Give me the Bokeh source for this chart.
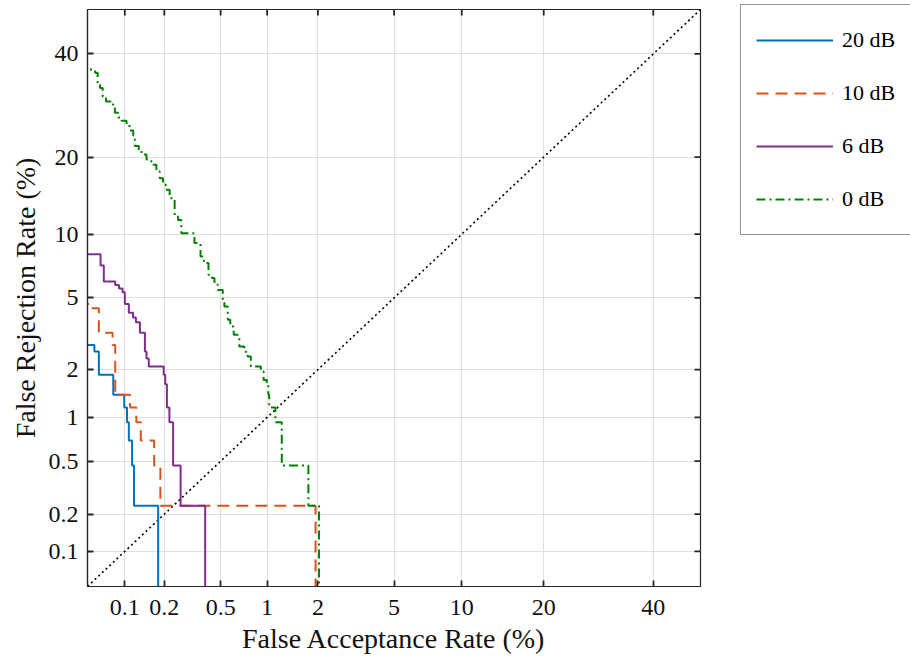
from math import pi
from statistics import NormalDist

from bokeh.embed import file_html
from bokeh.models import (CustomJSTickFormatter, FixedTicker, Legend, LegendItem,
                          Range1d)
from bokeh.plotting import figure
from bokeh.resources import INLINE

# ---------------------------------------------------------------- data (%)
tick_values = [0.1, 0.2, 0.5, 1, 2, 5, 10, 20, 40]
tick_labels = ["0.1", "0.2", "0.5", "1", "2", "5", "10", "20", "40"]
axis_limits = [0.05, 50]

# each curve: false-acceptance points where the miss rate drops,
# and the miss-rate level before the first drop and after every drop
fa_20db = [0.057, 0.062, 0.081, 0.099, 0.104, 0.1075, 0.114, 0.118, 0.18]
fr_20db = [2.79, 2.56, 1.86, 1.40, 1.16, 0.93, 0.70, 0.465, 0.233, 0.0]

fa_10db = [0.054, 0.062, 0.080, 0.084, 0.110, 0.123, 0.133, 0.168, 0.187, 1.94]
fr_10db = [4.65, 4.42, 3.26, 2.79, 1.40, 1.16, 0.93, 0.70, 0.465, 0.233, 0.0]

fa_6db = [0.064, 0.068, 0.084, 0.090, 0.096, 0.100, 0.1075, 0.116, 0.122, 0.131,
          0.143, 0.147, 0.153, 0.198, 0.203, 0.209, 0.218, 0.232, 0.263, 0.392]
fr_6db = [8.14, 7.21, 6.05, 5.81, 5.58, 5.35, 4.65, 4.19, 3.95, 3.72, 3.26,
          2.56, 2.33, 2.09, 1.86, 1.63, 1.16, 0.93, 0.465, 0.233, 0.0]

fa_0db = [0.0577, 0.0606, 0.0633, 0.0666, 0.0708, 0.0772, 0.0811, 0.0835, 0.0888,
          0.0943, 0.1032, 0.1095, 0.1163, 0.1196, 0.1284, 0.1346, 0.147, 0.160,
          0.1747, 0.1847, 0.1957, 0.2046, 0.2189, 0.238, 0.252, 0.266, 0.330,
          0.364, 0.384, 0.413, 0.436, 0.454, 0.478, 0.517, 0.530, 0.558, 0.580,
          0.611, 0.649, 0.665, 0.716, 0.753, 0.790, 0.914, 0.951, 0.996, 1.018,
          1.03, 1.124, 1.23, 1.765, 2.03]
fr_0db = [36.6, 35.9, 33.4, 32.7, 31.0, 30.0, 29.4, 28.7, 27.8, 26.9, 26.3, 25.3,
          24.5, 23.6, 21.8, 21.2, 20.4, 19.6, 18.8, 17.8, 16.8, 15.9, 15.2, 14.1,
          11.9, 11.5, 10.1, 9.14, 7.95, 7.41, 6.52, 6.28, 5.82, 5.49, 4.89, 4.51,
          3.84, 3.53, 3.18, 3.05, 2.73, 2.55, 2.39, 2.09, 1.95, 1.73, 1.61, 1.40,
          1.16, 0.93, 0.465, 0.233, 0.0]

series = [
    ("20 dB", fa_20db, fr_20db, "#0072BD", "solid"),
    ("10 dB", fa_10db, fr_10db, "#D95319", "12 7"),
    ("6 dB", fa_6db, fr_6db, "#7E2F8E", "solid"),
    ("0 dB", fa_0db, fr_0db, "#008000", "9 4 2 4"),
]

# ---------------------------------------------------------------- helpers
_nd = NormalDist()


def probit(pct):
    """Normal deviate of a percentage (DET axis warping)."""
    pct = min(max(pct, 1e-3), 100 - 1e-3)
    return _nd.inv_cdf(pct / 100.0)


def staircase(fa_drops, fr_levels):
    xs = [probit(1e-3)]
    ys = [probit(fr_levels[0])]
    for fa, before, after in zip(fa_drops, fr_levels[:-1], fr_levels[1:]):
        xs += [probit(fa), probit(fa)]
        ys += [probit(before), probit(after)]
    return xs, ys


FONT = "Liberation Serif"
AXIS_COLOR = "#262626"
TEXT_COLOR = "#111111"
tick_pos = [probit(v) for v in tick_values]
lo, hi = probit(axis_limits[0]), probit(axis_limits[1])

p = figure(frame_width=613, frame_height=577, output_backend="svg",
           toolbar_location=None, x_range=Range1d(lo, hi), y_range=Range1d(lo, hi),
           min_border_left=87, min_border_right=210, min_border_top=9,
           min_border_bottom=75, background_fill_color="white",
           border_fill_color="white")
p.outline_line_color = AXIS_COLOR
p.outline_line_width = 1.2

formatter = CustomJSTickFormatter(
    args=dict(pos=tick_pos, labels=tick_labels),
    code="""
        for (let i = 0; i < pos.length; i++) {
            if (Math.abs(pos[i] - tick) < 1e-9) { return labels[i]; }
        }
        return "";
    """)

for ax in (p.xaxis[0], p.yaxis[0]):
    ax.ticker = FixedTicker(ticks=tick_pos)
    ax.formatter = formatter
    ax.major_tick_in = 6
    ax.major_tick_out = 0
    ax.minor_tick_in = 0
    ax.minor_tick_out = 0
    ax.major_tick_line_color = AXIS_COLOR
    ax.major_tick_line_width = 1.8
    ax.axis_line_color = AXIS_COLOR
    ax.axis_line_width = 1.2
    ax.major_label_text_font = FONT
    ax.major_label_text_font_size = "24px"
    ax.major_label_text_color = TEXT_COLOR
    ax.axis_label_text_font = FONT
    ax.axis_label_text_font_size = "28px"
    ax.axis_label_text_font_style = "normal"
    ax.axis_label_text_color = TEXT_COLOR
    ax.axis_label_standoff = 5

p.xaxis[0].axis_label = "False Acceptance Rate (%)"
p.xaxis[0].major_label_standoff = 13
p.yaxis[0].axis_label = "False Rejection Rate (%)"
p.yaxis[0].major_label_standoff = 9

# inward tick marks along the top and right edges of the box
p.ray(x=tick_pos, y=[hi] * len(tick_pos), length=6, length_units="screen",
      angle=-pi / 2, line_color=AXIS_COLOR, line_width=1.8)
p.ray(x=[hi] * len(tick_pos), y=tick_pos, length=6, length_units="screen",
      angle=pi, line_color=AXIS_COLOR, line_width=1.8)

p.xgrid.grid_line_color = "#dfdfdf"
p.ygrid.grid_line_color = "#dfdfdf"
p.xgrid.grid_line_width = 1
p.ygrid.grid_line_width = 1

# chance diagonal (FA = FR)
diag = [probit(v) for v in axis_limits]
p.line(diag, diag, line_color="black", line_width=1.6, line_dash="2 3")

items = []
for label, fa, fr, color, dash in series:
    xs, ys = staircase(fa, fr)
    r = p.line(xs, ys, line_color=color, line_width=2, line_dash=dash)
    items.append(LegendItem(label=label, renderers=[r]))

legend = Legend(items=items, location=(40, 351), margin=0, padding=15,
                spacing=13, glyph_width=77, glyph_height=40, label_standoff=9,
                label_text_font=FONT, label_text_font_size="22px",
                label_text_color="#000000", border_line_color=AXIS_COLOR,
                border_line_width=1.2, background_fill_color="white",
                background_fill_alpha=1.0)
p.add_layout(legend, "right")

open("out.html", "w").write(file_html(p, INLINE))
